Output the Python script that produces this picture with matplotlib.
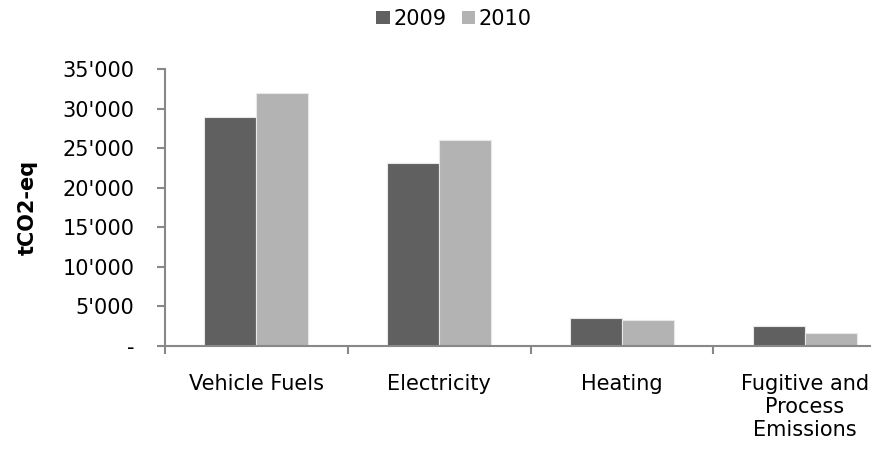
import matplotlib
matplotlib.use("Agg")
import matplotlib.pyplot as plt
import numpy as np
from matplotlib.patches import Patch

categories = ["Vehicle Fuels", "Electricity", "Heating", "Fugitive and\nProcess\nEmissions"]
series_names = ["2009", "2010"]
values_2009 = [29000, 23200, 3600, 2500]
values_2010 = [32000, 26100, 3300, 1700]
yticks = [0, 5000, 10000, 15000, 20000, 25000, 30000, 35000]
ytick_labels = ["-", "5'000", "10'000", "15'000", "20'000", "25'000", "30'000", "35'000"]
colors = ["#606060", "#b3b3b3"]

plt.rcParams['font.family'] = ['DejaVu Sans']
FS = 15

fig = plt.figure(figsize=(8.71, 4.5), dpi=100)
ax = fig.add_axes([165/871, 1-346/450, (896-165)/871, (346-69.3)/450])

x = np.arange(len(categories))
w = 0.285
ax.bar(x - w/2, values_2009, w, color=colors[0], edgecolor="#e8e8e8", linewidth=0.8, label=series_names[0])
ax.bar(x + w/2, values_2010, w, color=colors[1], edgecolor="#e8e8e8", linewidth=0.8, label=series_names[1])

ax.set_xlim(-0.5, len(categories) - 0.5)
ax.set_ylim(0, 35000)
ax.set_yticks(yticks)
ax.set_yticklabels(ytick_labels)
ax.set_xticks(x)
ax.set_xticklabels(categories, linespacing=1.2)
ax.set_xticks(np.arange(len(categories) + 1) - 0.5, minor=True)

for s in ["top", "right"]:
    ax.spines[s].set_visible(False)
for s in ["left", "bottom"]:
    ax.spines[s].set_color("#888888")
    ax.spines[s].set_linewidth(1.5)

ax.tick_params(axis="y", colors="#888888", labelcolor="black", length=6, width=1.5, pad=16, labelsize=FS)
ax.tick_params(axis="x", which="major", length=0, pad=20, labelsize=FS, labelcolor="black")
ax.tick_params(axis="x", which="minor", colors="#888888", length=6, width=1.5)

ax.set_ylabel("tCO2-eq", fontsize=FS, fontweight="bold", labelpad=18)

handles = [Patch(facecolor=c, edgecolor="none") for c in colors]
fig.legend(handles, series_names, loc="center", bbox_to_anchor=(454/871, 1-19/450),
           ncol=2, frameon=False, fontsize=FS, handlelength=0.65, handleheight=0.6,
           handletextpad=0.15, columnspacing=0.75)

fig.savefig("out.png", dpi=100)
